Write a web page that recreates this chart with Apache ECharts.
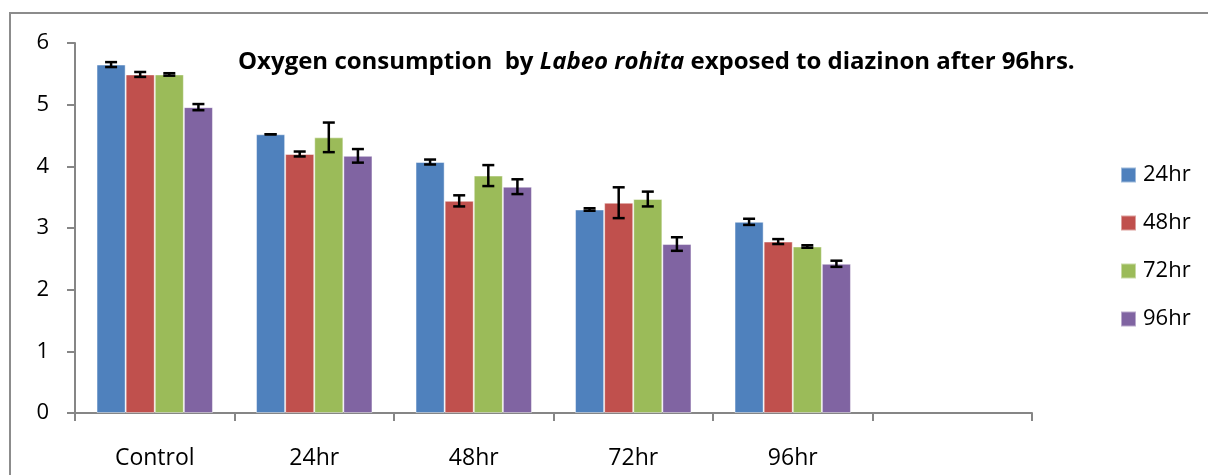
<!DOCTYPE html>
<html>
<head>
<meta charset="utf-8">
<script src="https://cdn.jsdelivr.net/npm/echarts@6/dist/echarts.min.js"></script>
<style>
  html, body { margin: 0; padding: 0; background: #fff; }
  #chart { width: 1208px; height: 475px; }
</style>
</head>
<body>
<div id="chart"></div>
<script>
// groups on the x axis (last one is empty in the original)
var categories = ["Control", "24hr", "48hr", "72hr", "96hr", ""];
var seriesNames = ["24hr", "48hr", "72hr", "96hr"];
var colors = ["#4F81BD", "#C0504D", "#9BBB59", "#8064A2"];

// mean values per series, one per category
var val24 = [5.65, 4.52, 4.07, 3.30, 3.10, null];
var val48 = [5.49, 4.20, 3.44, 3.41, 2.78, null];
var val72 = [5.49, 4.47, 3.85, 3.47, 2.70, null];
var val96 = [4.96, 4.17, 3.67, 2.74, 2.42, null];

// error (+/-) per series
var err24 = [0.04, 0.00, 0.04, 0.02, 0.05, null];
var err48 = [0.04, 0.04, 0.09, 0.25, 0.04, null];
var err72 = [0.02, 0.24, 0.17, 0.12, 0.02, null];
var err96 = [0.05, 0.11, 0.12, 0.11, 0.05, null];

var values = [val24, val48, val72, val96];
var errors = [err24, err48, err72, err96];

var GAP = 0.27; // barCategoryGap

var chart = echarts.init(document.getElementById("chart"));

function errorData(s) {
  var out = [];
  for (var i = 0; i < categories.length; i++) {
    if (values[s][i] == null) continue;
    out.push([i, values[s][i], errors[s][i], s]);
  }
  return out;
}

function renderError(params, api) {
  var cat = api.value(0);
  var v = api.value(1);
  var e = api.value(2);
  var s = api.value(3);
  var band = api.size([1, 0])[0];
  var bw = band * (1 - GAP) / 4;
  var x = api.coord([cat, v])[0] + (s - 1.5) * bw;
  var yTop = api.coord([cat, v + e])[1];
  var yBot = api.coord([cat, v - e])[1];
  var cap = 6;
  var style = { stroke: "#000", lineWidth: 2.5, fill: null };
  return {
    type: "group",
    children: [
      { type: "line", shape: { x1: x, y1: yTop, x2: x, y2: yBot }, style: style },
      { type: "line", shape: { x1: x - cap, y1: yTop, x2: x + cap, y2: yTop }, style: style },
      { type: "line", shape: { x1: x - cap, y1: yBot, x2: x + cap, y2: yBot }, style: style }
    ]
  };
}

var series = [];
seriesNames.forEach(function (name, s) {
  series.push({
    name: name,
    type: "bar",
    data: values[s],
    barGap: "0%",
    barCategoryGap: GAP * 100 + "%",
    itemStyle: { color: colors[s], borderColor: "rgba(255,255,255,0.45)", borderWidth: 1 }
  });
});
seriesNames.forEach(function (name, s) {
  series.push({
    type: "custom",
    renderItem: renderError,
    data: errorData(s),
    encode: { x: 0, y: 1 },
    z: 5,
    silent: true
  });
});

var font = "'Open Sans', sans-serif";

var option = {
  animation: false,
  textStyle: { fontFamily: font },
  color: colors,
  title: {
    left: 238,
    top: 48,
    padding: 0,
    text: "{b|Oxygen consumption  by }{i|Labeo rohita}{b| exposed to diazinon after 96hrs.}",
    textStyle: {
      rich: {
        b: { fontFamily: font, fontWeight: "bold", fontSize: 24, lineHeight: 28, color: "#000" },
        i: { fontFamily: font, fontWeight: "bold", fontStyle: "italic", fontSize: 24, lineHeight: 28, color: "#000" }
      }
    }
  },
  legend: {
    data: seriesNames,
    orient: "vertical",
    left: 1120,
    top: 164,
    padding: 0,
    itemWidth: 15,
    itemHeight: 15,
    itemGap: 26,
    icon: "rect",
    textStyle: { fontFamily: font, fontSize: 22, lineHeight: 22, color: "#000", padding: [0, 0, 0, 2] }
  },
  grid: { left: 75, top: 43, right: 176, bottom: 62, containLabel: false },
  xAxis: {
    type: "category",
    data: categories,
    boundaryGap: true,
    axisLine: { lineStyle: { color: "#868686", width: 2 } },
    axisTick: { show: true, length: 8, alignWithLabel: false, lineStyle: { color: "#868686", width: 2 } },
    axisLabel: { fontFamily: font, fontSize: 23, color: "#000", margin: 34 }
  },
  yAxis: {
    type: "value",
    min: 0,
    max: 6,
    interval: 1,
    axisLine: { show: true, lineStyle: { color: "#868686", width: 2 } },
    axisTick: { show: true, length: 8, lineStyle: { color: "#868686", width: 2 } },
    splitLine: { show: false },
    axisLabel: { fontFamily: font, fontSize: 22, color: "#000", margin: 26 }
  },
  graphic: [
    {
      type: "rect",
      shape: { x: 10, y: 13, width: 1220, height: 500 },
      style: { fill: null, stroke: "#8c8c8c", lineWidth: 2 },
      silent: true,
      z: -1
    }
  ],
  series: series
};

chart.setOption(option);
</script>
</body>
</html>
